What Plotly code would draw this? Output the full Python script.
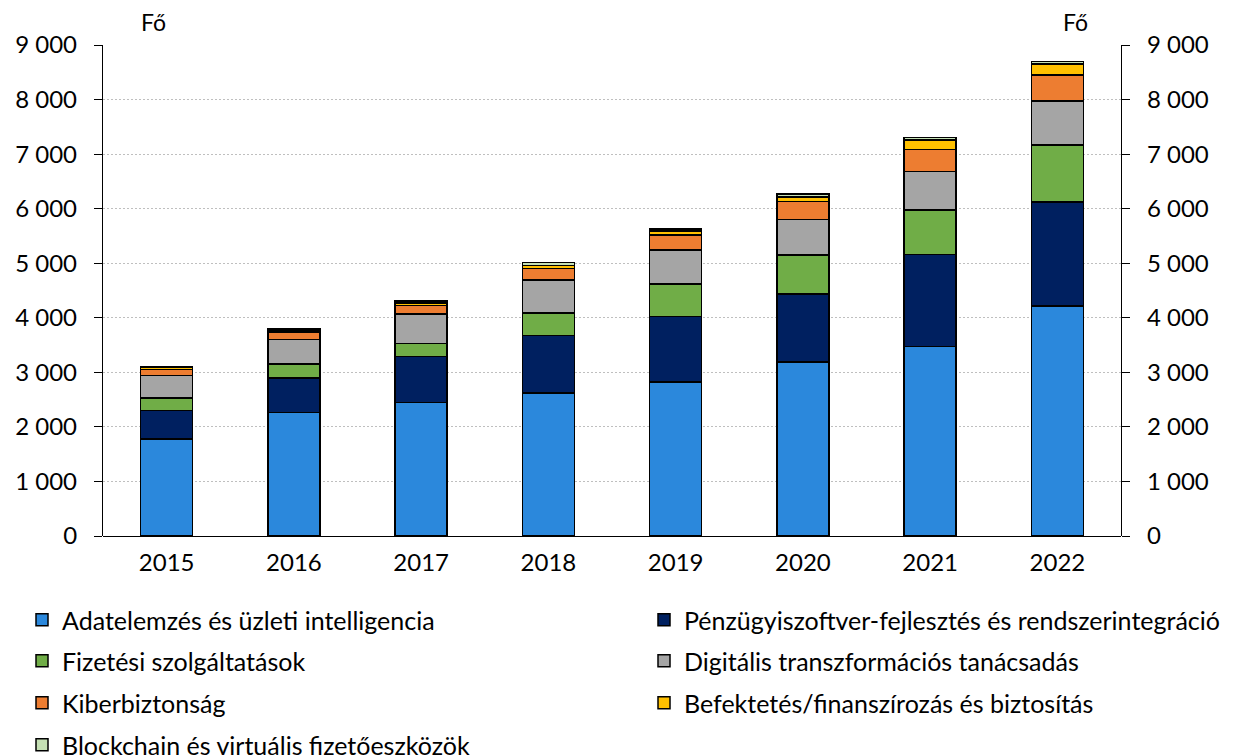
import plotly.graph_objects as go

years = ["2015", "2016", "2017", "2018", "2019", "2020", "2021", "2022"]

adatelemzes = [1780, 2265, 2450, 2620, 2820, 3190, 3475, 4220]
penzugyi_szoftver = [520, 630, 836, 1057, 1204, 1246, 1686, 1901]
fizetesi = [230, 255, 246, 409, 597, 715, 819, 1044]
digitalis = [415, 455, 537, 605, 618, 647, 697, 807]
kiberbiztonsag = [110, 135, 160, 208, 275, 330, 408, 482]
befektetes = [30, 40, 45, 60, 75, 90, 170, 200]
blockchain = [12, 20, 35, 50, 40, 50, 50, 45]

series_names = [
    "Adatelemzés és üzleti intelligencia",
    "Pénzügyiszoftver-fejlesztés és rendszerintegráció",
    "Fizetési szolgáltatások",
    "Digitális transzformációs tanácsadás",
    "Kiberbiztonság",
    "Befektetés/finanszírozás és biztosítás",
    "Blockchain és virtuális fizetőeszközök",
]
series_values = [adatelemzes, penzugyi_szoftver, fizetesi, digitalis,
                 kiberbiztonsag, befektetes, blockchain]
colors = ["#2B88DC", "#002060", "#70AD47", "#A5A5A5", "#ED7D31", "#FFC000", "#C5E0B4"]

tick_vals = [0, 1000, 2000, 3000, 4000, 5000, 6000, 7000, 8000, 9000]
tick_text = ["0", "1 000", "2 000", "3 000", "4 000", "5 000", "6 000", "7 000", "8 000", "9 000"]

FONT = "Lato, 'Open Sans', sans-serif"
FS = 24
# the page body has an 8px margin; size the figure so it fits the window
W, H = 1227, 748
OFF = 8
PL, PR, PT, PB = 103 - OFF, 1121 - OFF, 45 - OFF, 536 - OFF  # plot area in figure px

# legend layout: two columns, four rows (page px of reference)
row_y = [620, 661, 703, 745]
col_x = [22, 644]

fig = go.Figure()
layout_legends = {}
for i, (name, vals, col) in enumerate(zip(series_names, series_values, colors)):
    lid = "legend" if i == 0 else f"legend{i + 1}"
    fig.add_trace(go.Bar(
        x=years, y=vals, name=name, legend=lid,
        marker=dict(color=col, line=dict(color="#000000", width=1.5)),
    ))
    r, c = divmod(i, 2)
    layout_legends[lid] = dict(
        orientation="v", xref="container", yref="container",
        xanchor="left", yanchor="middle",
        x=(col_x[c] - OFF) / W, y=1 - (row_y[r] - OFF) / H,
        font=dict(family=FONT, size=FS + 1, color="#000000"),
        bgcolor="rgba(0,0,0,0)", itemclick=False, itemdoubleclick=False,
        borderwidth=0,
    )

# invisible trace for the right axis
fig.add_trace(go.Scatter(x=years, y=[None] * len(years), yaxis="y2", showlegend=False,
                         hoverinfo="skip"))

fig.update_layout(
    width=W, height=H,
    barmode="stack", bargap=0.59,
    plot_bgcolor="white", paper_bgcolor="white",
    margin=dict(l=PL, r=W - PR, t=PT, b=H - PB, autoexpand=False),
    font=dict(family=FONT, size=FS, color="#000000"),
    xaxis=dict(
        type="category", showgrid=False, showline=False, ticks="",
        tickfont=dict(family=FONT, size=FS), ticklabelstandoff=10,
    ),
    yaxis=dict(
        range=[0, 9000], tickvals=tick_vals, ticktext=tick_text,
        showgrid=True, gridcolor="#BFBFBF", griddash="2px,2px", gridwidth=1,
        showline=True, linecolor="#000000", linewidth=1.3,
        ticks="outside", ticklen=8, tickcolor="#000000", tickwidth=1.3,
        tickfont=dict(family=FONT, size=FS), zeroline=True, zerolinecolor="#000000",
        zerolinewidth=1.3, ticklabelstandoff=12,
    ),
    yaxis2=dict(
        range=[0, 9000], tickvals=tick_vals, ticktext=tick_text,
        overlaying="y", side="right", showgrid=False,
        showline=True, linecolor="#000000", linewidth=1.3,
        ticks="outside", ticklen=8, tickcolor="#000000", tickwidth=1.3,
        tickfont=dict(family=FONT, size=FS), zeroline=False, ticklabelstandoff=12,
    ),
    showlegend=True,
    **layout_legends,
)

for cx in (153, 1075):
    fig.add_annotation(text="Fő", xref="paper", yref="paper",
                       x=(cx - OFF - PL) / (PR - PL), y=(PB - (22 - OFF)) / (PB - PT),
                       xanchor="center", yanchor="middle",
                       showarrow=False, font=dict(family=FONT, size=FS - 1))

fig.write_html("out.html")
